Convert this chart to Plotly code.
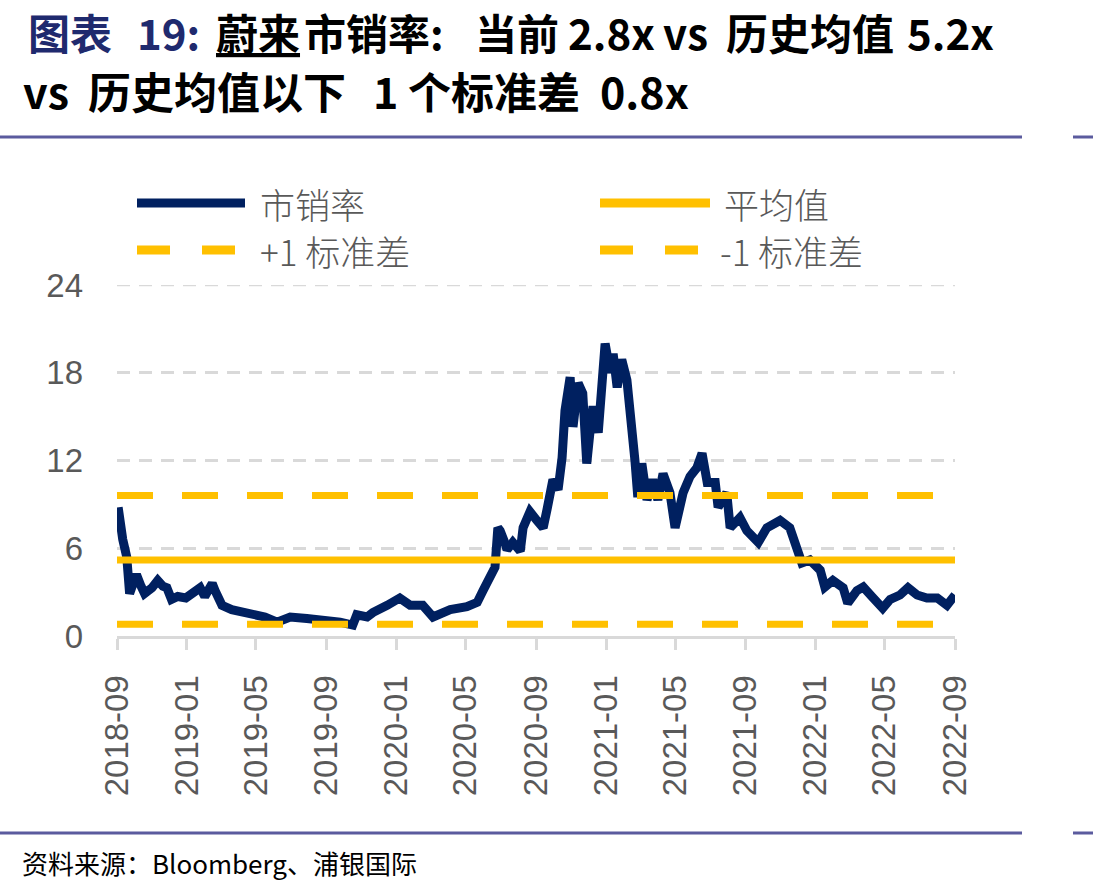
import plotly.graph_objects as go

# ---------------- data ----------------
dates = [
    "2018-09-03", "2018-09-06", "2018-09-11", "2018-09-18", "2018-09-23", "2018-10-01", "2018-10-05",
    "2018-10-13", "2018-10-19", "2018-11-01", "2018-11-11", "2018-11-20", "2018-11-27", "2018-12-05",
    "2018-12-16", "2018-12-30", "2019-01-15", "2019-01-24", "2019-02-01", "2019-02-14", "2019-02-19",
    "2019-03-03", "2019-03-20", "2019-04-17", "2019-05-17", "2019-06-07", "2019-06-30", "2019-07-29",
    "2019-09-02", "2019-09-25", "2019-10-17", "2019-10-24", "2019-11-11", "2019-11-21", "2019-12-16",
    "2020-01-07", "2020-01-25", "2020-02-16", "2020-03-05", "2020-04-04", "2020-05-03", "2020-05-21",
    "2020-05-31", "2020-06-09", "2020-06-21", "2020-06-26", "2020-06-30", "2020-07-08", "2020-07-12",
    "2020-07-22", "2020-08-04", "2020-08-09", "2020-08-12", "2020-08-21", "2020-09-02", "2020-09-13",
    "2020-09-20", "2020-09-30", "2020-10-09", "2020-10-16", "2020-10-21", "2020-10-30", "2020-11-04",
    "2020-11-13", "2020-11-21", "2020-11-28", "2020-12-04", "2020-12-09", "2020-12-18", "2020-12-25",
    "2020-12-30", "2021-01-08", "2021-01-13", "2021-01-20", "2021-01-28", "2021-02-06", "2021-02-11",
    "2021-02-15", "2021-02-20", "2021-02-25", "2021-03-04", "2021-03-13", "2021-03-23", "2021-04-01",
    "2021-04-10", "2021-04-22", "2021-05-01", "2021-05-15", "2021-05-27", "2021-06-08", "2021-06-17",
    "2021-06-26", "2021-07-10", "2021-07-15", "2021-07-30", "2021-08-05", "2021-08-22", "2021-09-03",
    "2021-09-23", "2021-10-08", "2021-10-31", "2021-11-17", "2021-11-30", "2021-12-08", "2021-12-22",
    "2022-01-09", "2022-01-17", "2022-01-31", "2022-02-18", "2022-02-26", "2022-03-14", "2022-03-25",
    "2022-04-09", "2022-04-28", "2022-05-11", "2022-05-28", "2022-06-11", "2022-06-27", "2022-07-14",
    "2022-08-01", "2022-08-18", "2022-09-01",
]
ps_ratio = [
    8.8, 7.5, 6.6, 5.4, 2.9, 3.8, 4.2,
    3.4, 2.9, 3.3, 3.8, 3.4, 3.3, 2.5,
    2.7, 2.6, 3.0, 3.3, 2.7, 3.6, 3.1,
    2.1, 1.8, 1.6, 1.3, 0.95, 1.3, 1.2,
    1.1, 0.95, 0.75, 1.45, 1.3, 1.6, 2.1,
    2.6, 2.1, 2.1, 1.3, 1.8, 2.0, 2.3,
    3.1, 3.7, 4.7, 7.4, 7.2, 6.4, 5.9,
    6.4, 5.8, 7.4, 7.7, 8.5, 7.9, 7.4,
    8.7, 10.7, 10.0, 12.2, 15.4, 17.7, 14.3,
    17.3, 16.6, 11.8, 14.1, 15.7, 13.9, 16.6,
    20.0, 18.0, 19.3, 17.0, 18.9, 17.5, 14.8,
    14.1, 12.0, 9.5, 11.8, 9.3, 10.7, 9.3,
    11.1, 9.8, 7.4, 9.8, 10.9, 11.5, 12.5,
    10.5, 10.5, 8.8, 9.8, 7.4, 8.1, 7.2,
    6.4, 7.4, 7.9, 7.4, 6.1, 5.0, 5.2,
    4.5, 3.35, 3.8, 3.3, 2.25, 3.1, 3.35,
    2.7, 1.9, 2.5, 2.8, 3.3, 2.8, 2.6,
    2.6, 2.1, 2.8,
]
hist_mean = 5.2
plus_1_std = 9.6
minus_1_std = 0.8

x_start = "2018-09-01"
x_end = "2022-09-01"
tick_vals = ["2018-09-01", "2019-01-01", "2019-05-01", "2019-09-01", "2020-01-01", "2020-05-01",
             "2020-09-01", "2021-01-01", "2021-05-01", "2021-09-01", "2022-01-01", "2022-05-01",
             "2022-09-01"]
tick_text = ["2018-09", "2019-01", "2019-05", "2019-09", "2020-01", "2020-05", "2020-09",
             "2021-01", "2021-05", "2021-09", "2022-01", "2022-05", "2022-09"]
y_ticks = [0, 6, 12, 18, 24]
y_max = 24

legend_names = ["市销率", "平均值", "+1 标准差", "-1 标准差"]

# title pieces (text, left pixel, colour, underline)
title_line1 = [
    ("图表", 26, "#1F2A6E", False),
    ("19:", 135, "#1F2A6E", False),
    ("蔚来", 214, "#000000", True),
    ("市销率:", 302, "#000000", False),
    ("当前", 473, "#000000", False),
    ("2.8x", 566, "#000000", False),
    ("vs", 661, "#000000", False),
    ("历史均值", 724, "#000000", False),
    ("5.2x", 905, "#000000", False),
]
title_line2 = [
    ("vs", 21, "#000000", False),
    ("历史均值以下", 86, "#000000", False),
    ("1", 371, "#000000", False),
    ("个标准差", 406, "#000000", False),
    ("0.8x", 598, "#000000", False),
]
source_text = "资料来源：Bloomberg、浦银国际"

# ---------------- style ----------------
W, H = 1093, 892
L, R, T, B = 117, 955, 285, 636
NAVY = "#002060"
GOLD = "#FFC000"
GREY = "#595959"
RULE = "#5B5B9E"
CJK = "Noto Sans CJK SC"


def PX(p):
    return (p - L) / (R - L)


def PY(p):
    return (B - p) / (B - T)


fig = go.Figure()
fig.add_trace(go.Scatter(x=dates, y=ps_ratio, mode="lines", name=legend_names[0],
                         line=dict(color=NAVY, width=9), showlegend=False))
fig.add_trace(go.Scatter(x=[x_start, x_end], y=[hist_mean, hist_mean], mode="lines",
                         name=legend_names[1], line=dict(color=GOLD, width=7), showlegend=False))
fig.add_trace(go.Scatter(x=[x_start, x_end], y=[plus_1_std, plus_1_std], mode="lines",
                         name=legend_names[2], line=dict(color=GOLD, width=7, dash="36px,29px"),
                         showlegend=False))
fig.add_trace(go.Scatter(x=[x_start, x_end], y=[minus_1_std, minus_1_std], mode="lines",
                         name=legend_names[3], line=dict(color=GOLD, width=7, dash="36px,29px"),
                         showlegend=False))

shapes = []
annotations = []

# top gridline (at the range edge)
shapes.append(dict(type="line", xref="paper", yref="y", x0=0, x1=1, y0=y_max, y1=y_max,
                   line=dict(color="#D9D9D9", width=2.5, dash="13px,9px"), layer="below"))

# manual legend
legend_rows = [
    (137, 245, 203, NAVY, "solid", 258, legend_names[0]),
    (600, 710, 203, GOLD, "solid", 722, legend_names[1]),
    (137, 235, 250, GOLD, "33px,32px", 258, legend_names[2]),
    (600, 700, 250, GOLD, "33px,32px", 718, legend_names[3]),
]
for x0, x1, yy, col, dash, tx, label in legend_rows:
    shapes.append(dict(type="line", xref="paper", yref="paper", x0=PX(x0), x1=PX(x1),
                       y0=PY(yy), y1=PY(yy), line=dict(color=col, width=9, dash=dash)))
    annotations.append(dict(xref="paper", yref="paper", x=PX(tx), y=PY(yy), text=label,
                            showarrow=False, xanchor="left", yanchor="middle",
                            font=dict(family=CJK, size=35, color=GREY, weight=300)))

# horizontal rules
for yy in (137, 833):
    shapes.append(dict(type="line", xref="paper", yref="paper", x0=PX(0), x1=PX(1022),
                       y0=PY(yy), y1=PY(yy), line=dict(color=RULE, width=3)))
    shapes.append(dict(type="line", xref="paper", yref="paper", x0=PX(1073), x1=PX(1093),
                       y0=PY(yy), y1=PY(yy), line=dict(color=RULE, width=3)))

# title (pieces placed like the original's spacing)
for pieces, yy, size in ((title_line1, 31, 42), (title_line2, 90, 43)):
    for txt, xx, col, und in pieces:
        t = "<b>" + (f"<u>{txt}</u>" if und else txt) + "</b>"
        annotations.append(dict(xref="paper", yref="paper", x=PX(xx), y=PY(yy), text=t,
                                showarrow=False, xanchor="left", yanchor="middle",
                                font=dict(family=CJK, size=size, color=col)))
# source
annotations.append(dict(xref="paper", yref="paper", x=PX(20), y=PY(862),
                        text=source_text, showarrow=False,
                        xanchor="left", yanchor="middle",
                        font=dict(family=CJK, size=26, color="#000000")))

fig.update_layout(
    width=W, height=H,
    margin=dict(l=L, r=W - R, t=T, b=H - B, pad=0),
    paper_bgcolor="white", plot_bgcolor="white",
    showlegend=False,
    shapes=shapes, annotations=annotations,
    xaxis=dict(type="date", range=[x_start, x_end], tickmode="array", tickvals=tick_vals,
               ticktext=tick_text, tickangle=-90, showgrid=False, zeroline=False,
               showline=True, linecolor="#D9D9D9", linewidth=3,
               ticks="outside", ticklen=11, tickwidth=3, tickcolor="#D9D9D9",
               ticklabelstandoff=12,
               tickfont=dict(family="Liberation Sans", size=33, color=GREY)),
    yaxis=dict(range=[0, y_max], tickmode="array", tickvals=y_ticks, showgrid=True,
               gridcolor="#D9D9D9", gridwidth=2.5, griddash="13px,9px", zeroline=False,
               showline=False, ticks="", ticklabelstandoff=33,
               tickfont=dict(family="Liberation Sans", size=33, color=GREY)),
)

fig.write_html("out.html")
